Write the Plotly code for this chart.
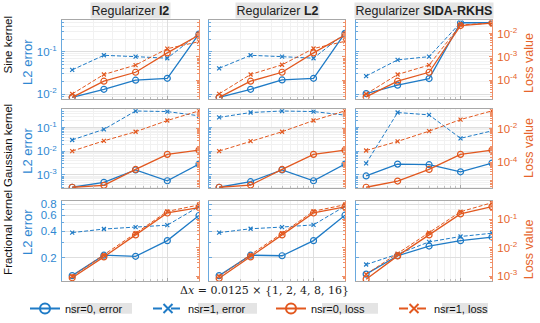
import math
import plotly.graph_objects as go
from plotly.subplots import make_subplots

# ---------------- data ----------------
dx = [0.0125, 0.025, 0.05, 0.1, 0.2]
regularizers = ["I2", "L2", "SIDA-RKHS"]
kernels = ["Sine kernel", "Gaussian kernel", "Fractional kernel"]

# Sine kernel
sine_I2_err0 = [0.0084, 0.013, 0.0213, 0.0236, 0.264]
sine_I2_err1 = [0.0374, 0.0827, 0.0768, 0.0706, 0.27]
sine_I2_loss0 = [1.85e-5, 9.1e-5, 2.2e-4, 1.49e-3, 8.8e-3]
sine_I2_loss1 = [2.56e-5, 1.77e-4, 4.47e-4, 2.26e-3, 4.53e-3]

sine_L2_err0 = [0.0084, 0.013, 0.0216, 0.0236, 0.275]
sine_L2_err1 = [0.0407, 0.0827, 0.0768, 0.0706, 0.275]
sine_L2_loss0 = [1.85e-5, 9.1e-5, 2.2e-4, 1.49e-3, 8.8e-3]
sine_L2_loss1 = [2.6e-5, 1.77e-4, 4.6e-4, 2.3e-3, 4.7e-3]

sine_SIDA_err0 = [0.0103, 0.0163, 0.0233, 0.487, 0.487]
sine_SIDA_err1 = [0.0267, 0.0645, 0.0768, 0.49, 0.49]
sine_SIDA_loss0 = [1.92e-5, 9.1e-5, 2.2e-4, 0.0223, 0.0285]
sine_SIDA_loss1 = [2.56e-5, 1.77e-4, 4.47e-4, 0.0236, 0.0285]

# Gaussian kernel
gauss_I2_err0 = [3.03e-4, 4.85e-4, 1.64e-3, 5.69e-4, 2.89e-3]
gauss_I2_err1 = [0.0303, 0.0853, 0.508, 0.481, 0.318]
gauss_I2_loss0 = [3.4e-6, 4.42e-6, 3.83e-5, 2.98e-4, 5.32e-4]
gauss_I2_loss1 = [4.67e-4, 1.88e-3, 6.48e-3, 0.0298, 0.111]

gauss_L2_err0 = [3.03e-4, 5.2e-4, 1.64e-3, 5.69e-4, 2.89e-3]
gauss_L2_err1 = [0.273, 0.438, 0.508, 0.481, 0.34]
gauss_L2_loss0 = [3.4e-6, 4.6e-6, 3.83e-5, 2.98e-4, 5.32e-4]
gauss_L2_loss1 = [4.67e-4, 1.8e-3, 6.48e-3, 0.0298, 0.111]

gauss_SIDA_err0 = [9.1e-4, 2.89e-3, 2.73e-3, 1.36e-3, 3.18e-3]
gauss_SIDA_err1 = [3.09e-3, 0.438, 0.349, 0.0356, 0.0733]
gauss_SIDA_loss0 = [3.4e-6, 7.9e-6, 3.83e-5, 2.98e-4, 5.32e-4]
gauss_SIDA_loss1 = [5.04e-4, 1.74e-3, 7.0e-3, 0.034, 0.111]

# Fractional kernel
frac_I2_err0 = [0.127, 0.215, 0.209, 0.313, 0.598]
frac_I2_err1 = [0.385, 0.422, 0.444, 0.466, 0.754]
frac_I2_loss0 = [8.75e-4, 4.78e-3, 0.0285, 0.169, 0.263]
frac_I2_loss1 = [9.9e-4, 5.59e-3, 0.0325, 0.192, 0.325]

frac_L2_err0 = [0.127, 0.215, 0.212, 0.313, 0.603]
frac_L2_err1 = [0.385, 0.425, 0.444, 0.47, 0.76]
frac_L2_loss0 = [8.4e-4, 4.78e-3, 0.0285, 0.169, 0.28]
frac_L2_loss1 = [9.9e-4, 5.59e-3, 0.0325, 0.195, 0.33]

frac_SIDA_err0 = [0.132, 0.212, 0.272, 0.313, 0.343]
frac_SIDA_err1 = [0.169, 0.221, 0.303, 0.348, 0.379]
frac_SIDA_loss0 = [7.8e-4, 5.16e-3, 0.0285, 0.157, 0.284]
frac_SIDA_loss1 = [1.16e-3, 6.24e-3, 0.034, 0.187, 0.389]

legend_names = ["nsr=0, error", "nsr=1, error", "nsr=0, loss", "nsr=1, loss"]

# tick labels shown on the axes
err_tick_vals = [[0.01, 0.1], [0.001, 0.01, 0.1], [0.2, 0.4, 0.6, 0.8]]
err_tick_text = [["10<sup>-2</sup>", "10<sup>-1</sup>"],
                 ["10<sup>-3</sup>", "10<sup>-2</sup>", "10<sup>-1</sup>"],
                 ["0.2", "0.4", "0.6", "0.8"]]
loss_tick_vals = [[1e-4, 1e-3, 1e-2], [1e-4, 1e-2], [1e-3, 1e-2, 1e-1]]
loss_tick_text = [["10<sup>-4</sup>", "10<sup>-3</sup>", "10<sup>-2</sup>"],
                  ["10<sup>-4</sup>", "10<sup>-2</sup>"],
                  ["10<sup>-3</sup>", "10<sup>-2</sup>", "10<sup>-1</sup>"]]

table = [
    [(sine_I2_err0, sine_I2_err1, sine_I2_loss0, sine_I2_loss1),
     (sine_L2_err0, sine_L2_err1, sine_L2_loss0, sine_L2_loss1),
     (sine_SIDA_err0, sine_SIDA_err1, sine_SIDA_loss0, sine_SIDA_loss1)],
    [(gauss_I2_err0, gauss_I2_err1, gauss_I2_loss0, gauss_I2_loss1),
     (gauss_L2_err0, gauss_L2_err1, gauss_L2_loss0, gauss_L2_loss1),
     (gauss_SIDA_err0, gauss_SIDA_err1, gauss_SIDA_loss0, gauss_SIDA_loss1)],
    [(frac_I2_err0, frac_I2_err1, frac_I2_loss0, frac_I2_loss1),
     (frac_L2_err0, frac_L2_err1, frac_L2_loss0, frac_L2_loss1),
     (frac_SIDA_err0, frac_SIDA_err1, frac_SIDA_loss0, frac_SIDA_loss1)],
]

# ---------------- style ----------------
W, H = 540, 323
FONT = "Liberation Sans, Arial, sans-serif"
BLUE = "#1f7bc6"
ORANGE = "#e2581f"
BLUE_TXT = "#2f88d2"
ORANGE_TXT = "#e6652c"
BLUE_AX = "#6aa9de"
ORANGE_AX = "#ef9068"
GRID = "#dedede"
MINOR = "#f1f1f1"

col_px = [(62, 199), (209, 345), (356, 492)]
row_px = [(18, 99), (110, 192), (205, 288)]

err_range = [(-2.107, -0.257), (-3.57, -0.22), (math.log10(0.11), math.log10(0.869))]
loss_range = [(-4.79, -1.43), (-5.54, -0.86), (-3.18, -0.35)]


def minor_ticks(lo, hi):
    out = []
    for k in range(math.floor(lo) - 1, math.ceil(hi) + 1):
        for m in range(2, 10):
            v = m * 10.0 ** k
            if lo <= math.log10(v) <= hi:
                out.append(v)
    return out


fig = make_subplots(rows=3, cols=3, specs=[[{"secondary_y": True}] * 3] * 3)

styles = [
    dict(color=BLUE, dash="solid", symbol="circle-open", size=6, width=1.3, sec=False),
    dict(color=BLUE, dash="4px,2px", symbol="x-thin-open", size=4, width=1.0, sec=False),
    dict(color=ORANGE, dash="solid", symbol="circle-open", size=6, width=1.3, sec=True),
    dict(color=ORANGE, dash="4px,2px", symbol="x-thin-open", size=4, width=1.0, sec=True),
]

for r in range(3):
    for c in range(3):
        series = table[r][c]
        for s, st in zip(series, styles):
            fig.add_trace(
                go.Scatter(
                    x=dx, y=s, mode="lines+markers", showlegend=False,
                    line=dict(color=st["color"], dash=st["dash"], width=st["width"]),
                    marker=dict(symbol=st["symbol"], size=st["size"], color=st["color"],
                                line=dict(color=st["color"], width=1.2)),
                    hoverinfo="skip",
                ),
                row=r + 1, col=c + 1, secondary_y=st["sec"],
            )

# legend-only traces
leg_styles = [
    dict(color=BLUE, dash="solid", symbol="circle-open", size=10),
    dict(color=BLUE, dash="dash", symbol="x-thin-open", size=9),
    dict(color=ORANGE, dash="solid", symbol="circle-open", size=10),
    dict(color=ORANGE, dash="dash", symbol="x-thin-open", size=9),
]
for name, st in zip(legend_names, leg_styles):
    fig.add_trace(
        go.Scatter(x=[None], y=[None], mode="lines+markers", name=name,
                   line=dict(color=st["color"], dash=st["dash"], width=2),
                   marker=dict(symbol=st["symbol"], size=st["size"], color=st["color"],
                               line=dict(color=st["color"], width=2))),
        row=1, col=1,
    )

xlo, xhi = -2.0, math.log10(0.2)
for r in range(3):
    y0p, y1p = row_px[r]
    ydom = [1 - y1p / H, 1 - y0p / H]
    for c in range(3):
        x0p, x1p = col_px[c]
        xdom = [x0p / W, x1p / W]
        fig.update_xaxes(
            type="log", range=[xlo, xhi], domain=xdom, showticklabels=False,
            showline=True, mirror=True, linecolor="#a8a8a8", linewidth=1,
            showgrid=True, gridcolor=GRID, tickvals=[0.01, 0.1],
            ticks="inside", ticklen=3, tickcolor="#a8a8a8",
            minor=dict(tickvals=minor_ticks(xlo, xhi), showgrid=True, gridcolor=MINOR,
                       ticks="inside", ticklen=2, tickcolor="#c0c0c0"),
            zeroline=False,
            row=r + 1, col=c + 1,
        )
        elo, ehi = err_range[r]
        fig.update_yaxes(
            type="log", range=[elo, ehi], domain=ydom,
            tickvals=err_tick_vals[r], ticktext=err_tick_text[r], showticklabels=(c == 0),
            tickfont=dict(family=FONT, size=11.5, color=BLUE_TXT),
            showline=True, linecolor=BLUE_AX, linewidth=1, mirror=False,
            showgrid=True, gridcolor=GRID, ticks="inside", ticklen=3, tickcolor=BLUE_AX,
            ticklabelstandoff=2,
            minor=dict(tickvals=minor_ticks(elo, ehi), showgrid=True, gridcolor=MINOR,
                       ticks="inside", ticklen=2, tickcolor=BLUE_AX),
            zeroline=False,
            row=r + 1, col=c + 1, secondary_y=False,
        )
        llo, lhi = loss_range[r]
        fig.update_yaxes(
            type="log", range=[llo, lhi], domain=ydom,
            tickvals=loss_tick_vals[r], ticktext=loss_tick_text[r], showticklabels=(c == 2),
            tickfont=dict(family=FONT, size=11.5, color=ORANGE_TXT),
            showline=True, linecolor=ORANGE_AX, linewidth=1, side="right",
            showgrid=False, ticks="inside", ticklen=3, tickcolor=ORANGE_AX,
            ticklabelstandoff=2,
            minor=dict(tickvals=minor_ticks(llo, lhi), ticks="inside", ticklen=2,
                       tickcolor=ORANGE_AX, showgrid=False),
            zeroline=False,
            row=r + 1, col=c + 1, secondary_y=True,
        )

annotations = []
# column titles
for c, reg in enumerate(regularizers):
    x0p, x1p = col_px[c]
    annotations.append(dict(
        text="Regularizer <b>%s</b>" % reg, x=(x0p + x1p) / 2 / W, y=1 - 7.5 / H,
        xref="paper", yref="paper", showarrow=False, xanchor="center", yanchor="middle",
        font=dict(family=FONT, size=12.5, color="#222222"), bgcolor="#e4e4e4", borderpad=0.5,
    ))
# row labels
row_lab_y = [43, 148, 238]
err_lab_y = [61, 153, 237]
loss_lab_y = [62, 150, 255]
for r, k in enumerate(kernels):
    annotations.append(dict(
        text=k, x=8 / W, y=1 - row_lab_y[r] / H, xref="paper", yref="paper",
        showarrow=False, textangle=-90, xanchor="center", yanchor="middle",
        font=dict(family=FONT, size=11.5, color="#111111"),
    ))
    annotations.append(dict(
        text="L2 error", x=28 / W, y=1 - err_lab_y[r] / H, xref="paper", yref="paper",
        showarrow=False, textangle=-90, xanchor="center", yanchor="middle",
        font=dict(family=FONT, size=13, color=BLUE_TXT),
    ))
    annotations.append(dict(
        text="Loss value", x=529 / W, y=1 - loss_lab_y[r] / H, xref="paper", yref="paper",
        showarrow=False, textangle=-90, xanchor="center", yanchor="middle",
        font=dict(family=FONT, size=12.5, color=ORANGE_TXT),
    ))
# x label
annotations.append(dict(
    text="Δ<i>x</i> = 0.0125 × {1, 2, 4, 8, 16}", x=264 / W, y=1 - 297.5 / H,
    xref="paper", yref="paper", showarrow=False, xanchor="center", yanchor="middle",
    font=dict(family="DejaVu Serif, Liberation Serif, serif", size=11, color="#222222"),
))

# grey boxes behind legend texts
shapes = []
for (a, b) in [(71, 132), (198, 257), (322, 378), (442, 488)]:
    shapes.append(dict(type="rect", xref="paper", yref="paper",
                       x0=a / W, x1=b / W, y0=1 - 321.7 / H, y1=1 - 310.7 / H,
                       fillcolor="#e4e4e4", line=dict(width=0), layer="below"))

fig.update_layout(
    width=W, height=H, autosize=False,
    margin=dict(l=0, r=0, t=0, b=0),
    paper_bgcolor="white", plot_bgcolor="white",
    font=dict(family=FONT, size=11, color="#222222"),
    annotations=annotations, shapes=shapes,
    legend=dict(orientation="h", x=25 / W, y=1 - 316.5 / H, xanchor="left", yanchor="middle",
                bgcolor="rgba(0,0,0,0)", font=dict(family=FONT, size=11, color="#111111"),
                entrywidth=78, entrywidthmode="pixels", itemwidth=30, tracegroupgap=0),
)

fig.write_html("out.html", config={"displayModeBar": False},
               post_script="document.body.style.margin='0px';")
